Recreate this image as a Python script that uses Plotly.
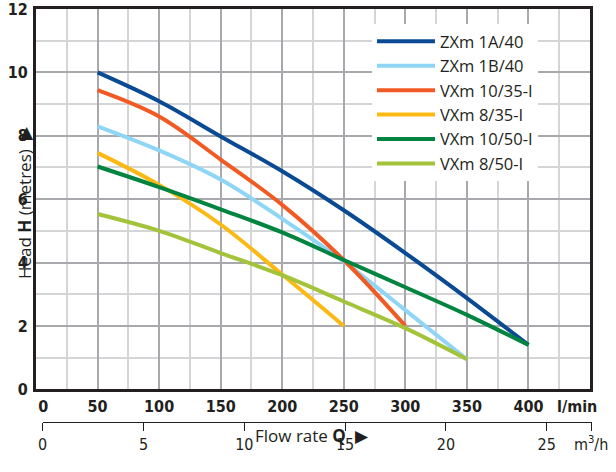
import plotly.graph_objects as go

# ---- data ----
flow_lpm = [50, 100, 150, 200, 250, 300, 350, 400]
zxm_1a_40 = [10.0, 9.09, 7.98, 6.88, 5.65, 4.3, 2.88, 1.4]
zxm_1b_40 = [8.3, 7.54, 6.62, 5.38, 4.03, 2.5, 0.95]
vxm_10_35 = [9.44, 8.61, 7.25, 5.82, 4.08, 2.0]
vxm_8_35 = [7.46, 6.45, 5.2, 3.62, 2.0]
vxm_10_50 = [7.03, 6.38, 5.68, 4.95, 4.08, 3.22, 2.35, 1.4]
vxm_8_50 = [5.53, 5.0, 4.3, 3.6, 2.77, 1.93, 0.95]

series_names = ["ZXm 1A/40", "ZXm 1B/40", "VXm 10/35-I", "VXm 8/35-I", "VXm 10/50-I", "VXm 8/50-I"]
series_values = [zxm_1a_40, zxm_1b_40, vxm_10_35, vxm_8_35, vxm_10_50, vxm_8_50]
series_colors = ["#0a4a94", "#8fd5f5", "#f15a22", "#fdb913", "#00843f", "#a3c33a"]

lpm_ticks = [0, 50, 100, 150, 200, 250, 300, 350, 400]
lpm_labels = ["\u20030", "50", "100", "150", "200", "250", "300", "350", "400"]
m3h_ticks = [0, 5, 10, 15, 20, 25]
m3h_end = 27.2
y_ticks = [0, 2, 4, 6, 8, 10, 12]

TXT = "#231f20"
NARROW = "Liberation Sans Narrow, Arial Narrow, DejaVu Sans Condensed, sans-serif"
SANS = "Open Sans, Noto Sans, sans-serif"

fig = go.Figure()
for name, vals, col in zip(series_names, series_values, series_colors):
    fig.add_trace(go.Scatter(
        x=flow_lpm[:len(vals)], y=vals, name=name, mode="lines",
        line=dict(color=col, width=4, shape="spline", smoothing=1.0),
    ))

# empty trace so that the m3/h scale (x2/y2) gets drawn
fig.add_trace(go.Scatter(x=[], y=[], xaxis="x2", yaxis="y2", showlegend=False, hoverinfo="skip"))

W, H = 616, 472
ml, mr, mt, mb = 36, 20, 9, 20
pw = W - ml - mr
ph = H - mt - mb

def px_x(p):
    return (p - ml) / pw

def px_y(p):
    return (H - mb - p) / ph

fig.update_layout(
    width=W, height=H,
    margin=dict(l=ml, r=mr, t=mt, b=mb, autoexpand=False),
    paper_bgcolor="white", plot_bgcolor="white",
    font=dict(family=SANS, color=TXT),
    showlegend=True,
    legend=dict(
        x=px_x(372), y=px_y(24), xanchor="left", yanchor="top",
        bgcolor="white", borderwidth=0,
        font=dict(family=SANS, size=16.5, color=TXT),
        itemwidth=58,
    ),
    xaxis=dict(
        domain=[0, px_x(590)], range=[0, 450], automargin=False,
        tickvals=lpm_ticks, ticktext=lpm_labels,
        tickfont=dict(family=NARROW, size=16, color=TXT, weight="bold"),
        ticks="", showgrid=True, gridcolor="#a7a9ac", gridwidth=2,
        minor=dict(dtick=25, tick0=0, showgrid=True, gridcolor="#d4d5d7", gridwidth=1.5),
        showline=True, linecolor="#231f20", linewidth=3, mirror=True,
        zeroline=False, anchor="y", ticklabeloverflow="allow",
    ),
    yaxis=dict(
        domain=[px_y(389.3), 1], range=[0, 12], automargin=False,
        tickvals=y_ticks, ticktext=[str(v) for v in y_ticks],
        tickfont=dict(family=NARROW, size=16, color=TXT, weight="bold"),
        ticks="", showgrid=True, gridcolor="#a7a9ac", gridwidth=2,
        minor=dict(dtick=1, tick0=0, showgrid=True, gridcolor="#d4d5d7", gridwidth=1.5),
        showline=True, linecolor="#231f20", linewidth=3, mirror=True,
        zeroline=False, anchor="x", ticklabeloverflow="allow", ticklabelstandoff=2,
    ),
    xaxis2=dict(
        domain=[px_x(42.7), px_x(591.7)], range=[0, 27.23], automargin=False,
        anchor="y2",
        tickvals=m3h_ticks + [m3h_end],
        ticktext=[str(v) for v in m3h_ticks] + ["m<sup>3</sup>/h"],
        tickfont=dict(family=NARROW, size=16, color=TXT),
        ticks="outside", ticklen=8, tickwidth=1, tickcolor=TXT,
        showline=True, linecolor=TXT, linewidth=1,
        showgrid=False, zeroline=False, ticklabeloverflow="allow",
    ),
    yaxis2=dict(
        domain=[px_y(421.7), px_y(421.7) + 0.004], range=[0, 1], visible=False,
        anchor="x2", automargin=False, showgrid=False, zeroline=False,
    ),
    annotations=[
        dict(text="<b>l/min</b>", x=px_x(577), y=px_y(406.7), xref="paper", yref="paper",
             showarrow=False, xanchor="center", yanchor="middle",
             font=dict(family=NARROW, size=16, color=TXT)),
        dict(text="Flow rate <b>Q</b>  \u25B6", x=px_x(312), y=px_y(435), xref="paper", yref="paper",
             showarrow=False, xanchor="center", yanchor="middle",
             font=dict(family=SANS, size=17, color=TXT)),
        dict(text="Head <b>H</b> (metres)  \u25B6", x=px_x(24), y=px_y(203), xref="paper", yref="paper",
             showarrow=False, xanchor="center", yanchor="middle", textangle=-90,
             font=dict(family=SANS, size=17, color=TXT)),
    ],
)

fig.write_html("out.html", config={"displayModeBar": False},
               post_script="document.body.style.margin='0';")
